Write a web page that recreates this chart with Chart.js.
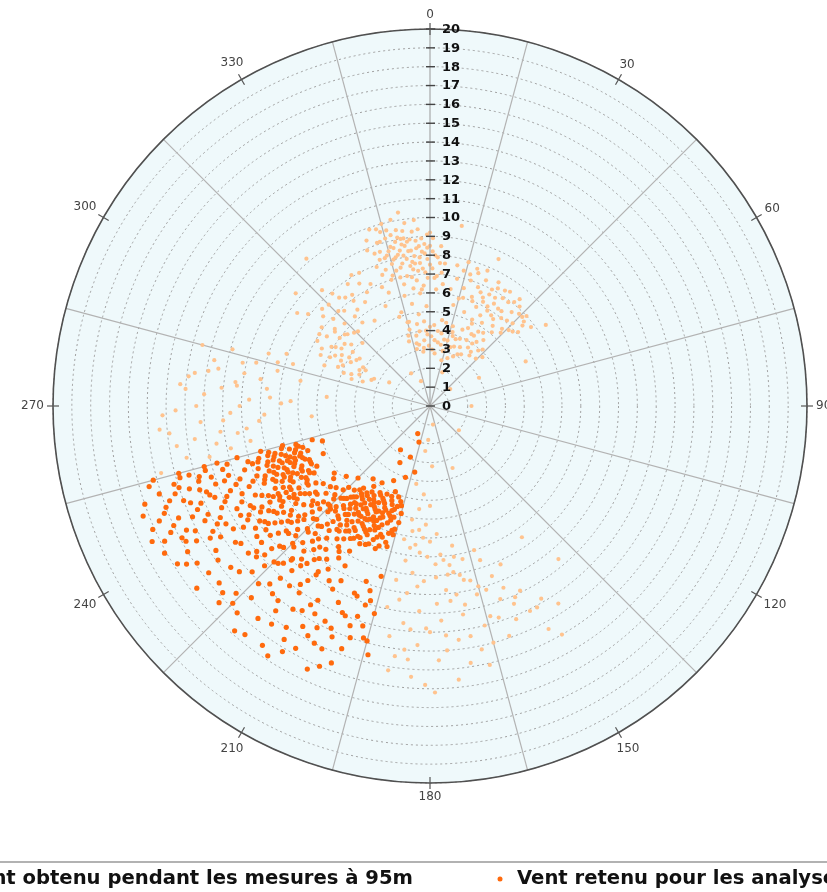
<!DOCTYPE html>
<html>
<head>
<meta charset="utf-8">
<script src="https://cdn.jsdelivr.net/npm/chart.js@4.4.0/dist/chart.umd.min.js"></script>
<style>
  html, body { margin: 0; padding: 0; background: #fff; overflow: hidden; }
  #wrap { width: 827px; height: 892px; position: relative; }
</style>
</head>
<body>
<div id="wrap"><canvas id="windChart"></canvas></div>
<script>
// Direction grid (degrees) and labelled directions
const directionSteps = [0, 15, 30, 45, 60, 75, 90, 105, 120, 135, 150, 165, 180, 195, 210, 225, 240, 255, 270, 285, 300, 315, 330, 345];
const directionLabels = ['0', '30', '60', '90', '120', '150', '180', '210', '240', '270', '300', '330'];
const speedTicks = [0, 1, 2, 3, 4, 5, 6, 7, 8, 9, 10, 11, 12, 13, 14, 15, 16, 17, 18, 19, 20];

const seriesNames = ['Vent obtenu pendant les mesures à 95m', 'Vent retenu pour les analyses'];

// [direction deg, speed m/s] - all measured wind (light)
const ventObtenu = [
  // north cluster
  [340,8.6],[342,9.1],[343,8.2],[344,9.6],[345,7.8],[346,8.7],[347,9.3],[348,7.5],[349,8.4],[350,9.0],
  [351,7.9],[352,8.3],[353,7.3],[354,8.0],[355,8.8],[356,7.6],[357,8.2],[358,7.1],[359,7.8],[0,8.5],
  [1,7.3],[2,8.0],[3,6.9],[4,7.6],[341,9.9],[345,10.0],[349,9.5],[352,9.8],[356,9.4],[359,9.1],
  [350.6,10.4],[346,8.0],[348,8.9],[351,8.6],[353,7.7],[355,7.2],[347,7.0],[344,8.3],[342,7.6],[339,7.9],
  [350,7.0],[354,6.7],[357,6.4],[352,6.9],[358,8.6],[1,8.9],[5,7.1],[6,6.5],[349,7.7],[353,8.9],
  [347,8.1],[345,9.2],[343,9.8],[351,9.4],[355,9.9],[338,8.9],[356,8.5],[0,7.5],[2,6.8],[348,10.1],
  [339,9.4],[340,7.4],[341,8.2],[342,8.6],[343,9.1],[344,7.2],[345,8.5],[346,9.6],[347,8.6],[348,8.2],
  [349,9.1],[350,8.1],[350,8.7],[351,9.0],[352,7.5],[352,8.8],[353,8.3],[354,9.3],[354,7.6],[355,8.4],
  [356,7.9],[357,8.9],[357,7.3],[358,8.1],[359,8.4],[0,9.2],[1,8.2],[3,7.9],[4,8.5],[6,7.6],
  [346,7.4],[343,7.0],[348,6.6],[355,6.0],[359,6.8],[3,6.2],
  [336,5.8],[340,6.4],[343,5.2],[347,6.0],[350,5.5],[353,4.9],[356,6.2],[358,5.3],[345,4.6],[338,6.8],
  [352,6.3],[341,5.0],
  // north-east cluster
  [12,6.9],[14,7.4],[16,6.5],[18,7.0],[19,7.7],[21,6.2],[22,6.8],[24,7.3],[25,5.8],[26,6.4],
  [28,7.0],[29,5.5],[30,6.1],[31,6.7],[33,7.3],[34,5.8],[35,6.3],[37,6.9],[38,5.4],[39,6.0],
  [41,6.6],[42,7.1],[43,5.6],[45,6.2],[46,6.8],[48,5.9],[49,6.5],[15,5.9],[20,5.3],[27,4.9],
  [32,5.2],[36,4.8],[40,5.1],[44,5.4],[23,7.8],[17,6.0],[13,5.5],[10,6.3],[29,7.5],[35,7.4],
  [47,7.0],[50,6.1],[26,5.1],[33,4.7],[40,7.4],
  [11,7.6],[15,7.9],[17,7.3],[20,7.5],[22,6.0],[24,6.6],[27,6.2],[28,6.7],[30,7.2],[32,6.4],
  [34,6.9],[36,5.7],[37,6.3],[39,7.1],[42,6.1],[44,6.8],[46,5.8],[48,6.7],[52,6.8],[31,5.9],
  // low speed northern cluster
  [342,3.6],[345,4.2],[347,3.1],[349,3.8],[351,4.4],[353,2.9],[355,3.5],[357,4.0],[359,3.2],[1,3.7],
  [3,4.3],[5,2.8],[7,3.4],[9,3.9],[11,4.5],[13,3.0],[15,3.6],[17,4.1],[19,3.3],[21,3.8],
  [23,4.4],[25,2.9],[27,3.5],[29,4.0],[31,3.2],[33,3.7],[36,4.2],[38,3.4],[41,3.9],[44,3.5],
  [350,3.3],[356,4.5],[2,3.0],[8,4.6],[14,2.5],[20,2.7],[26,4.6],[32,4.4],[12,3.6],[18,3.9],
  [343,3.9],[346,4.6],[348,3.4],[352,4.0],[354,3.1],[358,3.8],[0,4.2],[4,3.5],[6,4.0],[10,3.3],
  [16,4.4],[22,3.4],[24,3.9],[28,3.1],[30,4.4],[34,4.0],[37,3.6],[39,4.5],[43,4.1],[47,3.8],
  // north-west cluster
  [290,3.8],[292,4.5],[294,3.4],[295,5.1],[297,4.2],[298,5.7],[299,4.8],[300,5.4],[301,6.1],[302,4.6],
  [303,5.6],[304,6.6],[305,5.0],[306,7.1],[307,6.0],[308,5.3],[309,6.5],[310,7.4],[311,5.8],[312,6.9],
  [314,6.3],[315,7.6],[316,5.5],[318,6.8],[319,7.9],[320,6.2],[322,7.3],[324,6.9],[326,7.8],[328,6.5],
  [330,7.5],[332,8.0],[334,7.2],[296,5.9],[300,4.1],[303,7.0],[307,8.1],[305,8.6],[298,6.5],[293,5.3],
  [291,6.0],[313,4.9],[317,8.4],[321,5.7],[327,5.4],[289,4.4],[296,3.3],
  [291,4.9],[294,4.1],[297,5.3],[299,3.9],[301,5.0],[302,5.9],[304,4.5],[306,5.6],[308,6.4],[310,5.9],
  [312,7.7],[314,5.6],[316,7.0],[320,7.5],[323,6.4],[325,7.2],[329,8.1],[331,6.9],[295,6.4],[300,6.9],
  // west, sparse
  [256,14.7],[258,13.2],[259,9.7],[260,11.5],[262,12.6],[263,11.2],[264,13.9],[265,9.1],[266,12.2],[267,8.8],
  [268,10.6],[269,13.5],[270,10.1],[271,7.9],[272,9.6],[273,12.0],[274,13.0],[275,11.1],[276,8.7],[277,10.4],
  [278,12.6],[279,9.1],[280,10.0],[281,7.0],[282,11.7],[283,8.3],[284,9.5],[286,10.9],[287,7.6],[288,9.0],
  [275,13.3],[279,11.9],[262,10.3],[257,12.0],[285,12.5],[268,14.2],[272,7.4],[290,8.1],
  [258,10.8],[261,13.6],[263,9.8],[266,11.0],[270,12.4],[273,8.5],[276,10.3],[280,11.4],[283,10.2],[286,8.4],
  [277,12.9],[265,14.4],
  // south-south-east cluster
  [189,6.1],[185,6.6],[180,5.3],[186,7.4],[183,7.0],[176,7.9],[173,8.5],[171,7.5],[170,9.1],[167,9.5],
  [162,8.6],[156,9.2],[189,8.3],[191,9.4],[175,9.8],[170,10.7],[189,10.4],[183,10.9],[177,11.4],[173,12.5],
  [168,13.2],[160,10.9],[154,10.9],[154,12.1],[150,11.8],[147,12.5],[158,12.2],[185,13.5],[181,14.8],[186,13.0],
  [178,13.5],[175,8.2],[172,8.9],[168,8.3],[165,9.9],[178,9.1],[181,8.0],[184,9.6],[187,11.6],[190,12.4],
  [180,12.0],[176,13.0],[171,11.2],[164,11.6],[161,12.9],[158,10.4],[152,13.4],[167,14.1],[174,14.6],[182,6.3],
  [188,7.6],[177,6.8],[172,10.1],[163,8.0],[157,11.4],[185,11.9],[189,14.2],[192,10.9],[179,15.2],[166,12.0],
  [186,5.5],[191,7.2],[150,14.0],[171,13.8],
  [188,6.7],[184,7.8],[180,7.2],[178,8.4],[174,9.0],[171,8.1],[169,9.4],[166,10.3],[163,10.2],[160,9.6],
  [174,10.4],[178,10.5],[182,9.3],[186,8.9],[187,10.0],[181,11.8],[176,12.2],[170,12.4],[165,13.0],[156,11.1],
  [152,12.1],[162,11.8],[183,12.7],[188,13.4],[184,14.4],
  // scattered
  [171,1.0],[183,1.8],[186,2.4],[178,3.2],[190,4.2],[184,4.7],[50,1.4],[20,1.9],[330,2.0],[300,2.5],
  [340,1.4],[275,5.5],[265,6.3],[60,3.0],[90,2.2],[130,2.0],[160,3.5],[65,5.6],[55,7.5],[320,10.2],
  [310,9.3],[10,9.7],[25,8.6],[145,8.5],[140,10.6]
];

// [direction deg, speed m/s] - wind kept for the analyses (dark)
const ventRetenu = [
  // dense cluster near 205 deg
  [196,5.5],[198,6.2],[197,6.9],[199,5.8],[200,6.6],[201,7.3],[202,5.4],[203,6.0],[203,7.7],[204,6.5],
  [205,5.7],[205,7.0],[206,6.2],[207,7.5],[207,5.5],[208,6.8],[209,6.1],[209,7.9],[210,5.9],[210,7.2],
  [211,6.5],[212,7.6],[212,5.6],[213,6.9],[214,6.2],[214,7.4],[215,5.8],[216,6.7],[217,7.2],[217,6.0],
  [218,6.5],[219,7.7],[220,6.3],[221,7.0],[222,6.6],[196,7.1],[198,7.6],[199,6.4],[200,5.9],[201,6.1],
  [202,6.8],[204,7.2],[204,5.9],[206,7.6],[206,6.8],[208,5.8],[208,7.4],[210,6.6],[211,7.7],[213,5.9],
  [213,7.9],[215,7.0],[216,6.1],[218,7.3],[219,6.2],[220,7.6],[197,5.3],[200,7.4],[203,6.4],[205,6.7],
  [207,6.3],[209,6.9],[211,5.8],[212,6.9],[214,6.8],[216,7.5],[218,5.9],[221,6.4],[223,7.3],[224,6.8],
  [225,7.5],[226,6.4],[195,6.4],[197,7.8],[201,8.1],[204,8.0],[207,8.2],[210,8.1],[213,8.4],[199,5.1],
  [202,4.9],[206,5.2],[210,5.3],[215,5.2],[219,5.6],
  [195,5.9],[196,6.8],[198,5.6],[198,7.1],[200,6.2],[200,7.9],[201,5.6],[202,7.5],[203,5.2],[203,7.0],
  [204,6.2],[205,8.1],[206,5.6],[206,7.3],[207,6.6],[208,6.2],[208,7.9],[209,5.4],[209,7.3],[210,6.9],
  [211,6.1],[211,8.2],[212,6.4],[212,7.2],[213,6.5],[214,5.5],[214,8.0],[215,6.4],[215,7.7],[216,5.7],
  [217,6.5],[217,7.9],[218,6.9],[219,6.7],[220,5.8],[220,7.1],[222,7.5],[222,6.0],[223,6.7],[224,7.6],
  [225,6.1],[226,7.1],[227,6.9],[228,7.6],[229,6.6],[230,7.2],[231,6.8],[232,7.6],[233,6.4],[234,7.0],
  // dense cluster near 247 deg
  [240,7.1],[241,7.8],[242,8.4],[242,7.3],[243,8.8],[243,7.6],[244,8.1],[244,7.0],[245,8.6],[245,7.5],
  [246,7.9],[246,8.9],[247,7.2],[247,8.4],[248,7.7],[248,8.7],[249,8.1],[249,7.4],[250,8.5],[250,7.9],
  [251,8.8],[251,7.6],[252,8.3],[252,7.1],[253,8.6],[253,7.8],[254,8.2],[241,8.9],[244,9.1],[247,9.0],
  [250,9.2],[253,9.0],[239,7.6],[240,8.6],[246,7.0],[248,8.0],[251,8.1],[245,8.3],[243,7.9],[249,8.9],
  [252,7.5],[254,7.4],[242,6.8],[250,6.9],[254,6.5],[238,8.2],[236,7.3],[234,7.9],
  [237,8.6],[238,7.7],[239,8.9],[240,7.6],[240,9.6],[241,7.3],[241,8.3],[242,9.3],[243,8.3],[244,7.6],
  [244,8.6],[245,9.2],[245,7.0],[246,8.3],[247,7.8],[247,9.5],[248,7.3],[248,9.2],[249,7.7],[249,8.4],
  [250,7.3],[250,9.7],[251,9.1],[252,8.7],[252,9.9],[253,7.3],[253,9.5],[254,8.9],[255,8.1],[255,9.3],
  [236,8.7],[235,8.1],[239,9.3],[242,10.1],[246,9.6],
  // middle band
  [215,8.6],[216,9.4],[217,10.2],[218,8.9],[219,9.8],[220,10.6],[221,8.3],[221,9.5],[222,10.9],[223,8.7],
  [223,9.9],[224,10.4],[225,8.5],[225,9.2],[226,10.8],[227,8.0],[227,9.6],[228,10.1],[229,8.8],[229,9.3],
  [230,10.5],[230,8.2],[231,9.7],[231,10.9],[232,8.5],[233,9.2],[233,10.3],[234,8.8],[235,9.9],[235,10.7],
  [236,8.3],[236,9.5],[237,10.2],[237,8.9],[238,9.4],[238,10.6],[239,8.6],[239,9.9],[240,10.8],[240,9.3],
  [218,10.6],[220,8.0],[222,9.1],[224,7.8],[226,8.6],[228,9.0],[230,9.6],[232,10.0],[234,10.6],[236,10.9],
  [217,8.2],[219,10.9],[225,10.3],[231,8.0],[237,7.7],[226,7.5],[229,7.9],[233,7.6],[214,9.8],[212,9.1],
  [213,8.9],[214,10.6],[216,8.2],[216,10.0],[218,9.5],[219,8.5],[220,9.2],[221,10.2],[222,8.6],[223,11.4],
  [224,9.3],[225,11.7],[226,9.9],[227,10.9],[228,8.4],[228,11.3],[229,10.1],[230,9.1],[231,11.5],[232,9.4],
  [233,10.9],[234,9.6],[235,8.6],[236,10.0],[237,9.3],[238,11.4],[215,11.3],[211,9.4],[210,10.7],[209,8.8],
  // outer west-south-west
  [241,9.8],[243,10.4],[245,11.0],[247,10.2],[249,10.8],[251,11.3],[253,10.1],[255,10.6],[242,11.6],[244,12.3],
  [246,11.8],[248,12.6],[250,12.1],[252,12.9],[254,12.4],[241,12.9],[243,13.4],[245,13.9],[247,13.2],[249,14.0],
  [251,13.5],[253,14.2],[255,13.8],[240,14.3],[242,14.9],[244,15.3],[246,14.6],[248,15.2],[250,14.7],[252,15.1],
  [254,15.5],[243,15.8],[246,16.1],[249,16.3],[251,16.0],[245,9.7],[248,9.9],[252,9.6],[254,11.2],[239,11.2],
  [240,12.5],[238,13.1],[239,15.0],[242,14.1],[247,11.5],[250,13.0],[253,12.8],[255,15.2],[244,16.4],[248,13.7],
  [251,10.4],[246,10.5],[241,16.1],[238,15.8],[255,11.7],
  [239,10.4],[240,11.6],[241,10.9],[242,12.6],[243,11.2],[244,13.1],[245,12.0],[246,13.5],[247,12.4],[248,11.1],
  [249,12.7],[250,11.6],[251,14.3],[252,12.2],[253,11.5],[254,13.3],[255,12.4],[241,14.8],[243,14.5],[245,15.0],
  [247,15.6],[249,15.0],[252,14.0],[254,13.8],[240,13.3],
  // outer south-south-west
  [196,9.4],[198,10.3],[195,11.4],[197,12.2],[199,13.0],[194,13.6],[196,12.8],[198,11.1],[200,9.9],[201,10.8],
  [202,12.0],[203,13.3],[204,14.1],[205,11.5],[206,12.7],[207,10.4],[208,13.8],[209,14.7],[210,11.9],[211,15.2],
  [212,12.8],[213,14.0],[214,10.8],[215,15.5],[216,11.7],[217,13.6],[218,12.1],[219,14.5],[220,11.4],[221,15.8],
  [222,12.7],[223,13.9],[224,11.6],[225,14.8],[226,12.2],[227,15.3],[228,11.8],[229,13.4],[230,14.6],[231,12.4],
  [232,15.7],[233,11.5],[234,13.9],[235,12.6],[236,14.9],[237,11.8],[238,12.3],[239,13.6],[208,9.6],[212,10.2],
  [222,11.0],[235,11.3],[201,14.6],[205,15.4],[213,15.8],[200,12.4],[209,12.6],[227,12.9],[219,15.6],[230,12.0],
  [195,12.9],[197,10.8],[199,11.8],[200,13.7],[202,10.7],[203,11.9],[204,12.9],[206,14.0],[207,13.2],[208,11.0],
  [210,13.5],[211,12.3],[212,14.6],[214,13.0],[215,12.1],[216,14.3],[218,13.1],[220,13.0],[221,12.1],[223,15.0],
  [224,13.1],[226,14.3],[228,14.8],[229,12.2],[231,13.6],[233,14.7],[234,12.4],[236,13.7],[237,15.4],[203,15.0],
  // low speeds
  [204,1.6],[197,2.0],[201,2.9],[208,3.4],[199,4.0],[214,2.8],[206,4.4],[212,4.8],[218,4.9],[225,5.4],
  [230,5.8],[235,6.2],[193,3.6],[246,6.2],[252,6.0]
];

const COLOR_LIGHT = '#ffc38e';
const COLOR_DARK = '#ff6a0d';

// position on the radial scale for a compass direction and a value
function polarPixel(r, dir, value) {
  const a = dir * Math.PI / 180 - Math.PI / 2;
  const d = r.getDistanceFromCenterForValue(value);
  return { x: r.xCenter + Math.cos(a) * d, y: r.yCenter + Math.sin(a) * d };
}

// plugin: wind points placed with the radial scale
const windPoints = {
  id: 'windPoints',
  afterDatasetsDraw(chart) {
    const r = chart.scales.r;
    const ctx = chart.ctx;
    const drawSet = (pts, color, rad) => {
      ctx.save();
      ctx.fillStyle = color;
      pts.forEach(([dir, spd]) => {
        const p = polarPixel(r, dir, spd);
        ctx.beginPath();
        ctx.arc(p.x, p.y, rad, 0, Math.PI * 2);
        ctx.fill();
      });
      ctx.restore();
    };
    drawSet(ventObtenu, COLOR_LIGHT, 2.1);
    drawSet(ventRetenu, COLOR_DARK, 2.6);
  }
};

// plugin: radial axis with ticks, direction labels, legend
const axisDecor = {
  id: 'axisDecor',
  afterDraw(chart) {
    const r = chart.scales.r;
    const ctx = chart.ctx;
    const cx = r.xCenter, cy = r.yCenter;
    const R = r.getDistanceFromCenterForValue(20);
    ctx.save();

    // outer circle
    ctx.strokeStyle = '#505050';
    ctx.lineWidth = 1.6;
    ctx.beginPath();
    ctx.arc(cx, cy, R, 0, Math.PI * 2);
    ctx.stroke();

    // vertical speed axis
    ctx.strokeStyle = '#999';
    ctx.lineWidth = 1;
    ctx.beginPath();
    ctx.moveTo(cx, cy);
    ctx.lineTo(cx, cy - R);
    ctx.stroke();

    ctx.font = 'bold 13px "DejaVu Sans"';
    ctx.textAlign = 'left';
    ctx.textBaseline = 'middle';
    speedTicks.forEach(v => {
      const y = cy - r.getDistanceFromCenterForValue(v);
      ctx.strokeStyle = '#444';
      ctx.lineWidth = 1.4;
      ctx.beginPath();
      ctx.moveTo(cx - 4, y);
      ctx.lineTo(cx + 5, y);
      ctx.stroke();
      ctx.fillStyle = '#111';
      ctx.fillText(String(v), cx + 12, y + 0.5);
    });

    // direction ticks and labels
    ctx.font = '12px "DejaVu Sans"';
    ctx.textAlign = 'center';
    directionLabels.forEach(lbl => {
      const dir = Number(lbl);
      const a = dir * Math.PI / 180 - Math.PI / 2;
      const p1 = polarPixel(r, dir, 20 - 6 / 18.85);
      const p2 = polarPixel(r, dir, 20 + 6 / 18.85);
      ctx.strokeStyle = '#555';
      ctx.lineWidth = 1.2;
      ctx.beginPath();
      ctx.moveTo(p1.x, p1.y);
      ctx.lineTo(p2.x, p2.y);
      ctx.stroke();
      const w = ctx.measureText(lbl).width;
      const off = 9 + Math.abs(Math.cos(a)) * w / 2 + Math.abs(Math.sin(a)) * 5;
      ctx.fillStyle = '#444';
      ctx.fillText(lbl, cx + Math.cos(a) * (R + off), cy + Math.sin(a) * (R + off));
    });

    // legend
    ctx.strokeStyle = '#999';
    ctx.lineWidth = 1.5;
    ctx.beginPath();
    ctx.moveTo(0, 862);
    ctx.lineTo(chart.width, 862);
    ctx.stroke();
    ctx.font = 'bold 19.6px "DejaVu Sans"';
    ctx.fillStyle = '#111';
    ctx.textAlign = 'right';
    ctx.fillText(seriesNames[0], 413, 879);
    const w0 = ctx.measureText(seriesNames[0]).width;
    ctx.fillStyle = COLOR_LIGHT;
    ctx.beginPath();
    ctx.arc(413 - w0 - 17, 879, 2.5, 0, Math.PI * 2);
    ctx.fill();
    ctx.fillStyle = COLOR_DARK;
    ctx.beginPath();
    ctx.arc(500, 879, 2.5, 0, Math.PI * 2);
    ctx.fill();
    ctx.fillStyle = '#111';
    ctx.textAlign = 'left';
    ctx.fillText(seriesNames[1], 517, 879);
    ctx.restore();
  }
};

const windChart = new Chart(document.getElementById('windChart'), {
  type: 'radar',
  data: {
    labels: directionSteps.map(String),
    datasets: []
  },
  options: {
    responsive: true,
    maintainAspectRatio: false,
    animation: false,
    layout: { padding: { left: 53, right: 20, top: 29, bottom: 109 } },
    scales: {
      r: {
        min: 0,
        max: 20,
        backgroundColor: '#eff9fb',
        ticks: { display: false, stepSize: 1 },
        pointLabels: { display: false },
        angleLines: {
          color: (c) => (c.index % 2 === 1 ? '#b3b3b3' : 'rgba(0,0,0,0)'),
          lineWidth: 1.2
        },
        grid: {
          circular: true,
          color: '#a0a0a0',
          lineWidth: 1
        },
        border: { dash: [2, 3] }
      }
    },
    plugins: {
      legend: { display: false },
      tooltip: { enabled: false }
    }
  },
  plugins: [windPoints, axisDecor]
});
</script>
</body>
</html>
